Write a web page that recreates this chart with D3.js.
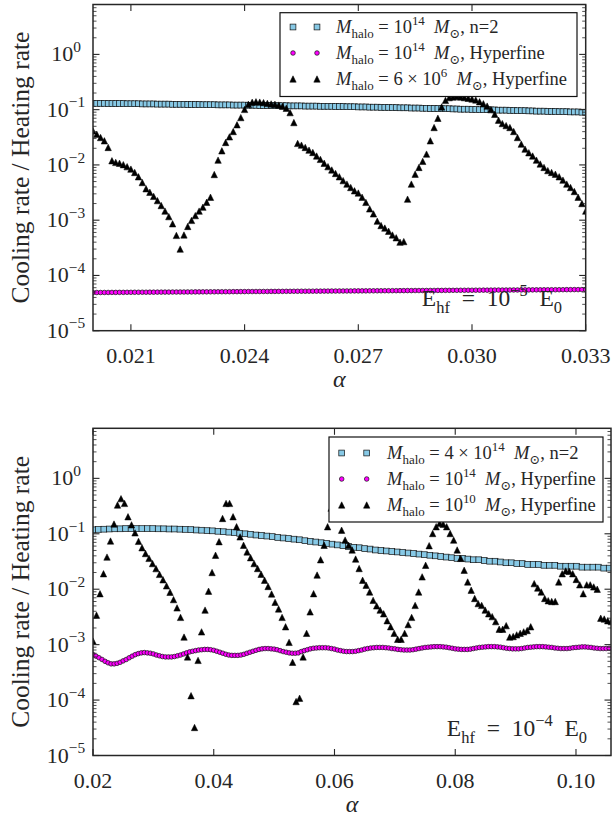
<!DOCTYPE html>
<html>
<head>
<meta charset="utf-8">
<script src="https://cdn.jsdelivr.net/npm/d3@7"></script>
<style>
  body { margin: 0; background: #fff; }
  svg { display: block; }
  text { font-family: "Liberation Serif", "DejaVu Serif", serif; fill: #262626; white-space: pre; }
</style>
</head>
<body>
<svg id="chart" width="613" height="818"></svg>
<script>
// ---------- data: top panel (E_hf = 1e-5 E0) ----------
const alphaTop = d3.range(131).map(i => +(0.0200 + 0.0001 * i).toFixed(4));

const topSquares = [
  .130,.130,.130,.130,.129,.129,.129,.129,.129,.128,
  .128,.128,.128,.127,.127,.127,.127,.126,.126,.126,
  .126,.125,.125,.125,.125,.124,.124,.124,.124,.123,
  .123,.123,.123,.122,.122,.122,.122,.121,.121,.121,
  .121,.120,.120,.120,.119,.119,.119,.119,.118,.118,
  .118,.118,.117,.117,.117,.117,.116,.116,.116,.116,
  .115,.115,.115,.115,.114,.114,.114,.113,.113,.113,
  .112,.112,.112,.111,.111,.111,.110,.110,.110,.109,
  .109,.108,.108,.108,.107,.107,.107,.106,.106,.105,
  .105,.105,.104,.104,.104,.103,.103,.102,.102,.102,
  .101,.101,.100,.100,.100,.099,.099,.098,.098,.098,
  .097,.097,.096,.096,.096,.095,.095,.094,.094,.094,
  .093,.093,.093,.092,.092,.092,.091,.091,.091,.090,.090
];

const topCircles = [
  4.90e-5,4.91e-5,4.91e-5,4.92e-5,4.92e-5,4.93e-5,4.93e-5,4.94e-5,4.94e-5,4.95e-5,
  4.95e-5,4.96e-5,4.96e-5,4.97e-5,4.97e-5,4.98e-5,4.98e-5,4.99e-5,4.99e-5,5.00e-5,
  5.00e-5,5.01e-5,5.01e-5,5.02e-5,5.02e-5,5.03e-5,5.03e-5,5.04e-5,5.04e-5,5.05e-5,
  5.05e-5,5.06e-5,5.06e-5,5.07e-5,5.07e-5,5.08e-5,5.08e-5,5.09e-5,5.09e-5,5.10e-5,
  5.10e-5,5.11e-5,5.11e-5,5.12e-5,5.12e-5,5.13e-5,5.13e-5,5.14e-5,5.14e-5,5.15e-5,
  5.15e-5,5.16e-5,5.16e-5,5.17e-5,5.17e-5,5.18e-5,5.18e-5,5.19e-5,5.19e-5,5.20e-5,
  5.20e-5,5.21e-5,5.21e-5,5.22e-5,5.22e-5,5.23e-5,5.23e-5,5.24e-5,5.24e-5,5.25e-5,
  5.25e-5,5.26e-5,5.26e-5,5.27e-5,5.27e-5,5.28e-5,5.28e-5,5.29e-5,5.29e-5,5.30e-5,
  5.30e-5,5.31e-5,5.31e-5,5.32e-5,5.32e-5,5.33e-5,5.33e-5,5.34e-5,5.34e-5,5.35e-5,
  5.35e-5,5.36e-5,5.36e-5,5.37e-5,5.37e-5,5.38e-5,5.38e-5,5.39e-5,5.39e-5,5.40e-5,
  5.40e-5,5.41e-5,5.41e-5,5.42e-5,5.42e-5,5.43e-5,5.43e-5,5.44e-5,5.44e-5,5.45e-5,
  5.45e-5,5.46e-5,5.46e-5,5.47e-5,5.47e-5,5.48e-5,5.48e-5,5.49e-5,5.49e-5,5.50e-5,
  5.50e-5,5.51e-5,5.51e-5,5.52e-5,5.52e-5,5.53e-5,5.53e-5,5.54e-5,5.54e-5,5.55e-5,5.55e-5
];

const topTriangles = [
  .0413,.0360,.0313,.0273,.0207,.0119,.0111,.0107,.0101,.0093,
  .0084,.0073,.0061,.0048,.0037,.0032,.0027,.00226,.00184,.00146,
  .00116,.00086,.00053,.00030,.00054,.00077,.00099,.00121,.00146,.00172,
  .00211,.0026,.0067,.0122,.0180,.0255,.0322,.0402,.0533,.0719,
  .101,.125,.136,.139,.137,.134,.130,.127,.125,.121,
  .115,.106,.0884,.0584,.0245,.0228,.0207,.0185,.0168,.0145,
  .0126,.0107,.0093,.0081,.0070,.0061,.0052,.0045,.0039,.0034,
  .0031,.0026,.0021,.0016,.0013,.00096,.00080,.00072,.00063,.00054,
  .00048,.00040,.00041,.0024,.0045,.0068,.0090,.0116,.0157,.0273,
  .0475,.0698,.112,.147,.165,.170,.172,.170,.165,.161,
  .156,.150,.139,.128,.116,.101,.0825,.0645,.0560,.0515,
  .0475,.0402,.0313,.0238,.0193,.0166,.0145,.0122,.0104,.0090,
  .0079,.0073,.0068,.0061,.0053,.0045,.0039,.0033,.0026,.0020,.00146
];

// ---------- data: bottom panel (E_hf = 1e-4 E0) ----------
const alphaBotSq = d3.range(96).map(i => +(0.0200 + 0.0009 * i).toFixed(4));
const botSquares = [
  .118,.120,.121,.122,.123,.123,.124,.124,.124,.124,
  .124,.124,.123,.123,.122,.122,.121,.120,.119,.117,
  .116,.114,.113,.111,.109,.107,.105,.102,.100,.098,
  .095,.093,.091,.089,.086,.084,.082,.080,.078,.075,
  .073,.071,.069,.067,.065,.063,.061,.059,.057,.056,
  .054,.053,.051,.050,.049,.048,.047,.046,.045,.044,
  .043,.042,.041,.040,.039,.038,.037,.036,.036,.035,
  .034,.034,.033,.032,.032,.031,.030,.030,.029,.029,
  .028,.028,.028,.027,.027,.027,.026,.026,.026,.026,
  .025,.025,.025,.025,.024,.024
];

const alphaBotCirc = d3.range(172).map(i => +(0.0200 + 0.0005 * i).toFixed(4));
const botCircles = [
  6.6e-4,6.2e-4,5.8e-4,5.4e-4,5.0e-4,4.7e-4,4.5e-4,4.5e-4,4.6e-4,4.8e-4,
  5.1e-4,5.4e-4,5.8e-4,6.2e-4,6.6e-4,6.9e-4,7.1e-4,7.2e-4,7.1e-4,7.0e-4,
  6.8e-4,6.5e-4,6.3e-4,6.1e-4,6.0e-4,6.0e-4,6.0e-4,6.1e-4,6.3e-4,6.5e-4,
  6.8e-4,7.1e-4,7.4e-4,7.6e-4,7.8e-4,8.0e-4,8.1e-4,8.2e-4,8.2e-4,8.1e-4,
  7.9e-4,7.6e-4,7.3e-4,7.0e-4,6.7e-4,6.5e-4,6.4e-4,6.4e-4,6.4e-4,6.5e-4,
  6.7e-4,7.0e-4,7.3e-4,7.6e-4,7.9e-4,8.2e-4,8.4e-4,8.5e-4,8.5e-4,8.4e-4,
  8.3e-4,8.1e-4,7.8e-4,7.5e-4,7.3e-4,7.1e-4,7.0e-4,7.0e-4,7.1e-4,7.5e-4,
  7.8e-4,8.1e-4,8.4e-4,8.6e-4,8.7e-4,8.8e-4,8.8e-4,8.8e-4,8.7e-4,8.5e-4,
  8.3e-4,8.0e-4,7.8e-4,7.6e-4,7.5e-4,7.5e-4,7.5e-4,7.6e-4,7.8e-4,8.0e-4,
  8.3e-4,8.5e-4,8.7e-4,8.8e-4,8.9e-4,8.9e-4,8.9e-4,8.8e-4,8.7e-4,8.5e-4,
  8.4e-4,8.2e-4,8.1e-4,8.0e-4,8.0e-4,8.0e-4,8.1e-4,8.3e-4,8.5e-4,8.7e-4,
  8.9e-4,9.0e-4,9.1e-4,9.2e-4,9.2e-4,9.2e-4,9.1e-4,9.0e-4,8.8e-4,8.6e-4,
  8.4e-4,8.3e-4,8.2e-4,8.2e-4,8.2e-4,8.3e-4,8.5e-4,8.7e-4,8.9e-4,9.0e-4,
  9.1e-4,9.2e-4,9.2e-4,9.2e-4,9.1e-4,9.0e-4,8.8e-4,8.6e-4,8.5e-4,8.4e-4,
  8.4e-4,8.4e-4,8.5e-4,8.7e-4,8.9e-4,9.0e-4,9.1e-4,9.2e-4,9.2e-4,9.2e-4,
  9.1e-4,9.0e-4,8.9e-4,8.7e-4,8.6e-4,8.5e-4,8.5e-4,8.5e-4,8.6e-4,8.8e-4,
  8.9e-4,9.0e-4,9.1e-4,9.1e-4,9.0e-4,8.9e-4,8.7e-4,8.6e-4,8.5e-4,8.5e-4,
  8.5e-4,8.6e-4
];

const alphaBotTri = d3.range(149).map(i => +(0.0200 + 0.00058 * i).toFixed(5));
const botTriangles = [
  .00116,.0034,.0083,.019,.038,.074,.150,.33,.43,.353,
  .203,.145,.104,.073,.056,.044,.036,.029,.0235,.0185,
  .0148,.0115,.0088,.0065,.0046,.0031,.00137,.0006,.00012,.000032,
  .00052,.0017,.0042,.0092,.020,.041,.072,.189,.353,.353,
  .203,.134,.088,.062,.047,.037,.029,.0236,.0186,.0145,
  .0112,.0082,.0058,.0044,.0031,.0021,.0011,.00048,.000094,.000108,
  .0006,.0016,.0039,.0083,.018,.034,.062,.134,.29,.38,
  .25,.116,.077,.062,.051,.035,.0236,.0145,.0118,.0089,
  .0063,.0050,.0042,.0036,.0027,.0021,.0016,.00125,.00125,.0016,
  .0023,.0031,.0051,.0089,.0167,.027,.061,.101,.134,.154,
  .149,.134,.101,.077,.051,.036,.022,.0135,.0096,.0068,
  .0055,.0051,.0042,.0036,.0032,.0026,.0019,.0019,.0022,.00137,
  .0014,.0015,.0016,.0017,.0018,.0021,.0126,.0105,.0089,.0068,
  .0062,.0060,.0060,.0135,.019,.0214,.021,.019,.015,.012,
  .0083,.012,.012,.011,.010,.0030,.0029,.0027,.0026
];

// ---------- ticks / labels ----------
const yDecades = [-5, -4, -3, -2, -1, 0];
const topXTicks = [0.021, 0.024, 0.027, 0.030, 0.033];
const topXLabels = ["0.021", "0.024", "0.027", "0.030", "0.033"];
const botXTicks = [0.02, 0.04, 0.06, 0.08, 0.10];
const botXLabels = ["0.02", "0.04", "0.06", "0.08", "0.10"];

const topLegend = [
  [{t: "M", it: 1}, {t: "halo", sub: 1}, {t: " = 10"}, {t: "14", sup: 1}, {t: "  "}, {t: "M", it: 1}, {t: "⊙", sub: 1}, {t: ", n=2"}],
  [{t: "M", it: 1}, {t: "halo", sub: 1}, {t: " = 10"}, {t: "14", sup: 1}, {t: "  "}, {t: "M", it: 1}, {t: "⊙", sub: 1}, {t: ", Hyperfine"}],
  [{t: "M", it: 1}, {t: "halo", sub: 1}, {t: " = 6 × 10"}, {t: "6", sup: 1}, {t: "  "}, {t: "M", it: 1}, {t: "⊙", sub: 1}, {t: ", Hyperfine"}]
];
const botLegend = [
  [{t: "M", it: 1}, {t: "halo", sub: 1}, {t: " = 4 × 10"}, {t: "14", sup: 1}, {t: "  "}, {t: "M", it: 1}, {t: "⊙", sub: 1}, {t: ", n=2"}],
  [{t: "M", it: 1}, {t: "halo", sub: 1}, {t: " = 10"}, {t: "14", sup: 1}, {t: "  "}, {t: "M", it: 1}, {t: "⊙", sub: 1}, {t: ", Hyperfine"}],
  [{t: "M", it: 1}, {t: "halo", sub: 1}, {t: " = 10"}, {t: "10", sup: 1}, {t: "  "}, {t: "M", it: 1}, {t: "⊙", sub: 1}, {t: ", Hyperfine"}]
];
const topNote = [{t: "E"}, {t: "hf", sub: 1}, {t: "  =  10"}, {t: "−5", sup: 1}, {t: "  E"}, {t: "0", sub: 1}];
const botNote = [{t: "E"}, {t: "hf", sub: 1}, {t: "  =  10"}, {t: "−4", sup: 1}, {t: "  E"}, {t: "0", sub: 1}];

// ---------- helpers ----------
const svg = d3.select("#chart");
const INK = "#262626";
const SKY = "#87c9e6";
const MAG = "#ff00ff";

// write mathtext-like label with sub/superscripts
function richText(sel, parts, size) {
  let shift = 0;
  parts.forEach(p => {
    const target = p.sub ? size * 0.28 : p.sup ? -size * 0.42 : 0;
    const ts = sel.append("tspan").attr("dy", target - shift).text(p.t);
    if (p.sub || p.sup) ts.attr("font-size", size * 0.7);
    if (p.it) ts.attr("font-style", "italic");
    shift = target;
  });
}

function trianglePath(s) {
  const h = s / 2;
  return `M0,${-h}L${h},${h}L${-h},${h}Z`;
}

function drawMarker(g, kind, x, y) {
  if (kind === "sq") {
    g.append("rect").attr("x", x - 2.9).attr("y", y - 2.9).attr("width", 5.8).attr("height", 5.8)
      .attr("fill", SKY).attr("stroke", "#111").attr("stroke-width", 0.7);
  } else if (kind === "ci") {
    g.append("circle").attr("cx", x).attr("cy", y).attr("r", 2.3)
      .attr("fill", MAG).attr("stroke", "#111").attr("stroke-width", 0.7);
  } else {
    g.append("path").attr("d", trianglePath(6.4)).attr("transform", `translate(${x},${y})`)
      .attr("fill", "#000").attr("stroke", "#000").attr("stroke-width", 0.5);
  }
}

function drawPanel(cfg) {
  const {id, box, xDomain, xTicks, xLabels, series, legend, legendBox, note} = cfg;
  const x = d3.scaleLinear().domain(xDomain).range([box.left, box.right]);
  const y = d3.scaleLog().domain([1e-5, 8]).range([box.bottom, box.top]);

  const g = svg.append("g");
  g.append("clipPath").attr("id", "clip" + id).append("rect")
    .attr("x", box.left).attr("y", box.top)
    .attr("width", box.right - box.left).attr("height", box.bottom - box.top);

  const plot = g.append("g").attr("clip-path", `url(#clip${id})`);
  series.forEach(s => {
    const sg = plot.append("g");
    s.xs.forEach((xv, i) => drawMarker(sg, s.kind, x(xv), y(s.ys[i])));
  });

  // ticks
  const minor = [];
  yDecades.concat([1]).forEach(d => {
    for (let m = 2; m <= 9; m++) {
      const v = m * Math.pow(10, d - 1);
      if (v > 1e-5 && v < 8) minor.push(v);
    }
  });
  const tickG = g.append("g").attr("stroke", INK);
  yDecades.forEach(d => {
    const yy = y(Math.pow(10, d));
    tickG.append("line").attr("x1", box.left).attr("x2", box.left + 6.5).attr("y1", yy).attr("y2", yy).attr("stroke-width", 1.1);
    tickG.append("line").attr("x1", box.right).attr("x2", box.right - 6.5).attr("y1", yy).attr("y2", yy).attr("stroke-width", 1.1);
  });
  minor.forEach(v => {
    const yy = y(v);
    tickG.append("line").attr("x1", box.left).attr("x2", box.left + 3.5).attr("y1", yy).attr("y2", yy).attr("stroke-width", 0.8);
    tickG.append("line").attr("x1", box.right).attr("x2", box.right - 3.5).attr("y1", yy).attr("y2", yy).attr("stroke-width", 0.8);
  });
  xTicks.forEach(t => {
    const xx = x(t);
    tickG.append("line").attr("x1", xx).attr("x2", xx).attr("y1", box.bottom).attr("y2", box.bottom - 6.5).attr("stroke-width", 1.1);
    tickG.append("line").attr("x1", xx).attr("x2", xx).attr("y1", box.top).attr("y2", box.top + 6.5).attr("stroke-width", 1.1);
  });

  // frame
  g.append("rect").attr("x", box.left).attr("y", box.top)
    .attr("width", box.right - box.left).attr("height", box.bottom - box.top)
    .attr("fill", "none").attr("stroke", INK).attr("stroke-width", 1.5);

  // y tick labels
  yDecades.forEach(d => {
    const t = g.append("text").attr("x", box.left - 27).attr("y", y(Math.pow(10, d)) + 7)
      .attr("text-anchor", "middle").attr("font-size", 22);
    richText(t, [{t: "10"}, {t: d < 0 ? "−" + (-d) : String(d), sup: 1}], 22);
  });
  // x tick labels
  xTicks.forEach((t, i) => {
    g.append("text").attr("x", x(t)).attr("y", box.bottom + 32)
      .attr("text-anchor", "middle").attr("font-size", 22).text(xLabels[i]);
  });
  // axis titles
  g.append("text").attr("x", (box.left + box.right) / 2).attr("y", box.bottom + 56)
    .attr("text-anchor", "middle").attr("font-size", 24).attr("font-style", "italic").text("α");
  g.append("text").attr("transform", `translate(29,${(box.top + box.bottom) / 2}) rotate(-90)`)
    .attr("text-anchor", "middle").attr("font-size", 25.5).text("Cooling rate / Heating rate");

  // annotation
  const nt = g.append("text").attr("x", note.x).attr("y", note.y)
    .attr("text-anchor", "end").attr("font-size", 23.5);
  richText(nt, note.parts, 23.5);

  // legend
  const lb = legendBox;
  g.append("rect").attr("x", lb.x0).attr("y", lb.y0).attr("width", lb.x1 - lb.x0).attr("height", lb.y1 - lb.y0)
    .attr("fill", "#fff").attr("stroke", "#111").attr("stroke-width", 1.2);
  legend.forEach((parts, i) => {
    const cy = lb.rows[i];
    lb.marks.forEach(mx => drawMarker(g, series[i].kind, mx, cy));
    const t = g.append("text").attr("x", lb.textX).attr("y", cy + 6).attr("font-size", 18.5);
    richText(t, parts, 18.5);
  });
}

drawPanel({
  id: "top",
  box: {left: 93, right: 585.7, top: 4.5, bottom: 330.7},
  xDomain: [0.02, 0.033],
  xTicks: topXTicks, xLabels: topXLabels,
  series: [
    {kind: "sq", xs: alphaTop, ys: topSquares},
    {kind: "ci", xs: alphaTop, ys: topCircles},
    {kind: "tr", xs: alphaTop, ys: topTriangles}
  ],
  legend: topLegend,
  legendBox: {x0: 280, x1: 577, y0: 12.7, y1: 96.5, rows: [27, 53, 79], marks: [293, 317], textX: 336},
  note: {x: 562, y: 306, parts: topNote}
});

drawPanel({
  id: "bot",
  box: {left: 93, right: 611, top: 428.3, bottom: 755.5},
  xDomain: [0.02, 0.1058],
  xTicks: botXTicks, xLabels: botXLabels,
  series: [
    {kind: "sq", xs: alphaBotSq, ys: botSquares},
    {kind: "ci", xs: alphaBotCirc, ys: botCircles},
    {kind: "tr", xs: alphaBotTri, ys: botTriangles}
  ],
  legend: botLegend,
  legendBox: {x0: 329, x1: 603, y0: 437, y1: 522, rows: [453, 479, 505], marks: [341.7, 366.7], textX: 387},
  note: {x: 587, y: 736, parts: botNote}
});
</script>
</body>
</html>
